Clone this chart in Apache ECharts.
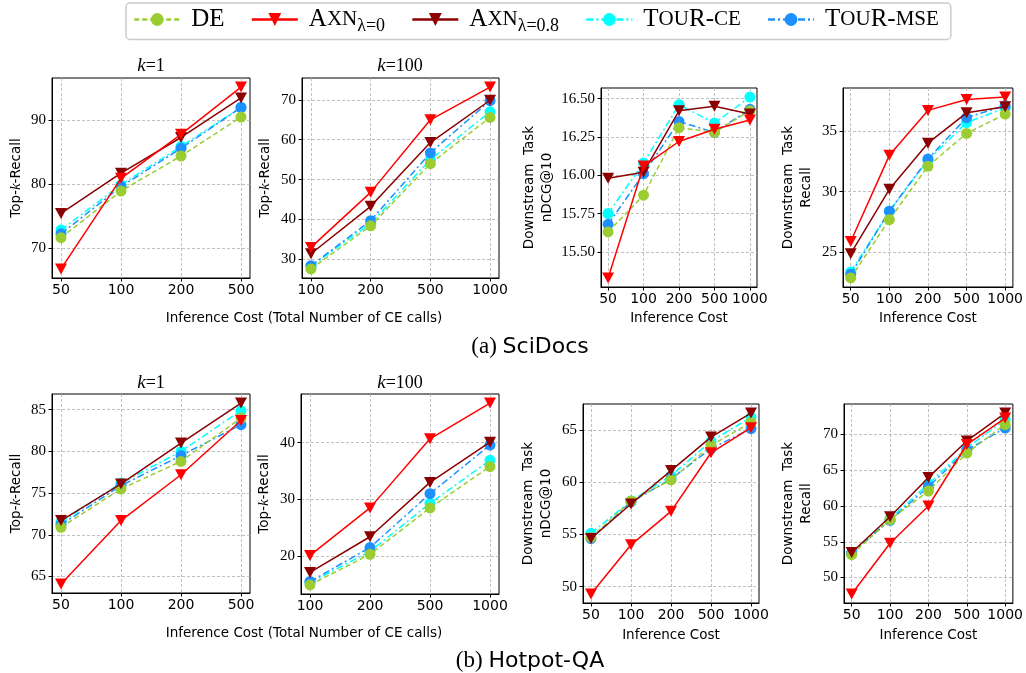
<!DOCTYPE html>
<html><head><meta charset="utf-8">
<script src="https://cdn.jsdelivr.net/npm/echarts@6/dist/echarts.min.js"></script>
<style>html,body{margin:0;padding:0;background:#fff}#c{width:1026px;height:673px}</style>
</head><body><div id="c"></div>
<script>
// ---------- categories (x tick labels) ----------
const costK1 = ['50', '100', '200', '500'];
const costK100 = ['100', '200', '500', '1000'];
const costDown = ['50', '100', '200', '500', '1000'];

// ---------- series names ----------
const seriesNames = ['DE', 'Axn0', 'Axn08', 'CE', 'MSE'];

// ---------- (a) SciDocs ----------
const sciK1_DE    = [71.6, 78.9, 84.4, 90.5];
const sciK1_Axn0  = [66.7, 80.9, 87.8, 95.2];
const sciK1_Axn08 = [75.4, 81.7, 87.3, 93.5];
const sciK1_CE    = [72.8, 79.9, 85.9, 92.0];
const sciK1_MSE   = [72.2, 79.6, 85.6, 92.0];
const sciK1_yTicks = [70, 80, 90];

const sciK100_DE    = [27.6, 38.4, 54.0, 65.6];
const sciK100_Axn0  = [33.0, 46.8, 65.0, 73.2];
const sciK100_Axn08 = [31.4, 43.3, 59.3, 69.9];
const sciK100_CE    = [28.2, 39.0, 55.0, 67.0];
const sciK100_MSE   = [28.4, 39.7, 56.7, 69.8];
const sciK100_yTicks = [30, 40, 50, 60, 70];

const sciNdcg_DE    = [15.63, 15.87, 16.31, 16.28, 16.42];
const sciNdcg_Axn0  = [15.33, 16.06, 16.22, 16.30, 16.36];
const sciNdcg_Axn08 = [15.98, 16.02, 16.42, 16.45, 16.40];
const sciNdcg_CE    = [15.75, 16.08, 16.46, 16.34, 16.51];
const sciNdcg_MSE   = [15.68, 16.01, 16.35, 16.28, 16.43];
const sciNdcg_yTicks = [15.5, 15.75, 16.0, 16.25, 16.5];

const sciRec_DE    = [22.9, 27.7, 32.1, 34.8, 36.4];
const sciRec_Axn0  = [25.9, 33.0, 36.7, 37.6, 37.8];
const sciRec_Axn08 = [24.9, 30.2, 34.0, 36.5, 37.0];
const sciRec_CE    = [23.4, 28.4, 32.6, 35.7, 36.9];
const sciRec_MSE   = [23.2, 28.4, 32.7, 36.1, 37.1];
const sciRec_yTicks = [25, 30, 35];

// ---------- (b) Hotpot-QA ----------
const hotK1_DE    = [70.9, 75.5, 78.8, 84.0];
const hotK1_Axn0  = [64.1, 71.7, 77.2, 83.7];
const hotK1_Axn08 = [71.7, 76.1, 81.0, 85.8];
const hotK1_CE    = [71.5, 76.2, 80.0, 84.9];
const hotK1_MSE   = [71.2, 75.9, 79.5, 83.2];
const hotK1_yTicks = [65, 70, 75, 80, 85];

const hotK100_DE    = [14.9, 20.3, 28.5, 35.8];
const hotK100_Axn0  = [20.1, 28.5, 40.7, 47.0];
const hotK100_Axn08 = [17.1, 23.4, 33.0, 40.1];
const hotK100_CE    = [15.3, 20.8, 29.3, 36.9];
const hotK100_MSE   = [15.5, 21.5, 31.0, 39.6];
const hotK100_yTicks = [20, 30, 40];

const hotNdcg_DE    = [54.7, 58.2, 60.2, 63.5, 65.7];
const hotNdcg_Axn0  = [49.3, 54.0, 57.2, 62.8, 65.2];
const hotNdcg_Axn08 = [54.6, 57.9, 61.1, 64.3, 66.6];
const hotNdcg_CE    = [55.1, 58.2, 60.6, 63.9, 66.2];
const hotNdcg_MSE   = [54.6, 58.1, 60.3, 63.2, 65.1];
const hotNdcg_yTicks = [50, 55, 60, 65];

const hotRec_DE    = [53.2, 58.1, 62.1, 67.4, 71.4];
const hotRec_Axn0  = [47.7, 54.8, 60.0, 68.6, 72.3];
const hotRec_Axn08 = [53.5, 58.5, 64.0, 69.1, 73.0];
const hotRec_CE    = [53.4, 58.2, 63.1, 68.1, 72.1];
const hotRec_MSE   = [53.4, 58.0, 62.7, 67.8, 70.9];
const hotRec_yTicks = [50, 55, 60, 65, 70];

// ---------- panel assembly ----------
const panels = [
  {cats: costK1,   vals: [sciK1_DE, sciK1_Axn0, sciK1_Axn08, sciK1_CE, sciK1_MSE], ticks: sciK1_yTicks, dec: 0},
  {cats: costK100, vals: [sciK100_DE, sciK100_Axn0, sciK100_Axn08, sciK100_CE, sciK100_MSE], ticks: sciK100_yTicks, dec: 0},
  {cats: costDown, vals: [sciNdcg_DE, sciNdcg_Axn0, sciNdcg_Axn08, sciNdcg_CE, sciNdcg_MSE], ticks: sciNdcg_yTicks, dec: 2},
  {cats: costDown, vals: [sciRec_DE, sciRec_Axn0, sciRec_Axn08, sciRec_CE, sciRec_MSE], ticks: sciRec_yTicks, dec: 0},
  {cats: costK1,   vals: [hotK1_DE, hotK1_Axn0, hotK1_Axn08, hotK1_CE, hotK1_MSE], ticks: hotK1_yTicks, dec: 0},
  {cats: costK100, vals: [hotK100_DE, hotK100_Axn0, hotK100_Axn08, hotK100_CE, hotK100_MSE], ticks: hotK100_yTicks, dec: 0},
  {cats: costDown, vals: [hotNdcg_DE, hotNdcg_Axn0, hotNdcg_Axn08, hotNdcg_CE, hotNdcg_MSE], ticks: hotNdcg_yTicks, dec: 0},
  {cats: costDown, vals: [hotRec_DE, hotRec_Axn0, hotRec_Axn08, hotRec_CE, hotRec_MSE], ticks: hotRec_yTicks, dec: 0}
];

// layout (positions / styles only)
const layout = [
  {left: 52,  top: 78,  width: 198, height: 200, yName: 'topk', yGap: 27, xName: ''},
  {left: 302, top: 78,  width: 197, height: 200, yName: 'topk', yGap: 28, xName: ''},
  {left: 601, top: 88,  width: 156, height: 199, yName: 'Downstream  Task\nnDCG@10', yGap: 45, xName: 'Inference Cost', xGap: 24},
  {left: 843, top: 88,  width: 176, height: 199, yName: 'Downstream  Task\nRecall', yGap: 28, xName: 'Inference Cost', xGap: 24},
  {left: 52,  top: 394, width: 198, height: 199, yName: 'topk', yGap: 27, xName: ''},
  {left: 301, top: 394, width: 198, height: 200, yName: 'topk', yGap: 28, xName: ''},
  {left: 583, top: 404, width: 176, height: 199, yName: 'Downstream  Task\nnDCG@10', yGap: 28, xName: 'Inference Cost', xGap: 25},
  {left: 844, top: 404, width: 175, height: 199, yName: 'Downstream  Task\nRecall', yGap: 29, xName: 'Inference Cost', xGap: 25}
];

const styles = {
  DE:    {color: '#9acd32', dash: [5, 3],        symbol: 'circle',   size: 11, rot: 0,   z: 4},
  Axn0:  {color: '#ff0000', dash: 'solid',       symbol: 'triangle', size: [12, 11], rot: 180, z: 6},
  Axn08: {color: '#8b0000', dash: 'solid',       symbol: 'triangle', size: [12, 11], rot: 180, z: 5},
  CE:    {color: '#00ffff', dash: [7, 3, 2, 3],  symbol: 'circle',   size: 11, rot: 0,   z: 2},
  MSE:   {color: '#1e90ff', dash: [7, 3, 2, 3],  symbol: 'circle',   size: 11, rot: 0,   z: 3}
};

const legendLabels = {
  DE:    '{g|}{n|DE}',
  Axn0:  '{g|}{n|A}{s|XN}{sub|λ=0}',
  Axn08: '{g|}{n|A}{s|XN}{sub|λ=0.8}',
  CE:    '{g|}{n|T}{s|OU}{n|R-}{s|CE}',
  MSE:   '{g|}{n|T}{s|OU}{n|R-}{s|MSE}'
};

const SANS = 'DejaVu Sans';
const SERIF = 'Liberation Serif';

const grids = [], xAxes = [], yAxes = [], series = [];
panels.forEach((p, i) => {
  const L = layout[i];
  grids.push({left: L.left, top: L.top, width: L.width, height: L.height, show: true,
    borderColor: '#000', borderWidth: 1, backgroundColor: 'transparent', containLabel: false});
  const n = p.cats.length;
  const idx = p.cats.map((c, j) => j);
  xAxes.push({
    type: 'value', gridIndex: i, min: -0.05 * (n - 1), max: (n - 1) * 1.05,
    axisLine: {show: true, onZero: false, lineStyle: {color: '#000', width: 1}},
    axisTick: {show: true, customValues: idx, length: 3.5, lineStyle: {color: '#000'}},
    axisLabel: {customValues: idx, formatter: v => p.cats[Math.round(v)], fontFamily: SANS, fontSize: 14, color: '#000', margin: 5},
    splitLine: {show: true, lineStyle: {color: '#b0b0b0', type: [3, 2], width: 0.8}},
    name: L.xName, nameLocation: 'middle', nameGap: L.xGap || 0,
    nameTextStyle: {fontFamily: SANS, fontSize: 13.5, color: '#000'}
  });
  let all = [];
  p.vals.forEach(a => { all = all.concat(a); });
  const lo = Math.min(...all), hi = Math.max(...all), span = hi - lo;
  const yName = L.yName === 'topk' ? '{a|Top-}{i|k}{a|-Recall}' : L.yName;
  yAxes.push({
    type: 'value', gridIndex: i, min: lo - 0.05 * span, max: hi + 0.05 * span,
    axisLine: {show: true, onZero: false, lineStyle: {color: '#000', width: 1}},
    axisTick: {show: true, customValues: p.ticks, length: 3.5, lineStyle: {color: '#000'}},
    axisLabel: {customValues: p.ticks, formatter: v => v.toFixed(p.dec), fontFamily: SERIF, fontSize: 15, color: '#000', margin: 6},
    splitLine: {show: true, lineStyle: {color: '#b0b0b0', type: [3, 2], width: 0.8}},
    name: yName, nameLocation: 'middle', nameGap: L.yGap, nameRotate: 90,
    nameTextStyle: {fontFamily: SANS, fontSize: 13.5, color: '#000', lineHeight: 18,
      rich: {a: {fontFamily: SANS, fontSize: 13.5, color: '#000'}, i: {fontFamily: SERIF, fontStyle: 'italic', fontSize: 15, color: '#000'}}}
  });
  seriesNames.forEach((s, k) => {
    const st = styles[s];
    series.push({
      type: 'line', name: s, xAxisIndex: i, yAxisIndex: i, z: st.z,
      data: p.vals[k].map((v, j) => [j, v]),
      symbol: st.symbol, symbolSize: st.size, symbolRotate: st.rot, showSymbol: true,
      lineStyle: {color: st.color, width: 1.5, type: st.dash},
      itemStyle: {color: st.color, borderWidth: 0},
      silent: true, animation: false, emphasis: {disabled: true}
    });
  });
});

const titleRich = {i: {fontFamily: SERIF, fontStyle: 'italic', fontSize: 19, color: '#000'}, n: {fontFamily: SERIF, fontSize: 18, color: '#000'}};
function txt(x, y, text, rich) {
  return {type: 'text', x: x, y: y, silent: true, style: {text: text, rich: rich, align: 'center', verticalAlign: 'middle', fill: '#000'}};
}
const nameRich = {a: {fontFamily: SANS, fontSize: 13.5, color: '#000'}};
const capRich = {s: {fontFamily: SERIF, fontSize: 23, color: '#000'}, t: {fontFamily: SANS, fontSize: 22, color: '#000'}};

const graphic = [
  txt(151, 66, '{i|k}{n|=1}', titleRich),
  txt(400, 66, '{i|k}{n|=100}', titleRich),
  txt(151, 383, '{i|k}{n|=1}', titleRich),
  txt(400, 383, '{i|k}{n|=100}', titleRich),
  txt(304, 318, '{a|Inference Cost (Total Number of CE calls)}', nameRich),
  txt(304, 633, '{a|Inference Cost (Total Number of CE calls)}', nameRich),
  txt(530, 347, '{s|(a) }{t|SciDocs}', capRich),
  txt(530, 661, '{s|(b) }{t|Hotpot-QA}', capRich)
];

const chart = echarts.init(document.getElementById('c'), null, {renderer: 'canvas'});
chart.setOption({
  animation: false,
  backgroundColor: '#fff',
  grid: grids, xAxis: xAxes, yAxis: yAxes, series: series,
  legend: {
    data: seriesNames, left: 126, top: 3, orient: 'horizontal',
    padding: [4, 12, 4, 7], itemGap: 26, itemWidth: 46, itemHeight: 16,
    borderColor: '#cccccc', borderWidth: 1.5, borderRadius: 4, backgroundColor: '#fff',
    selectedMode: false,
    lineStyle: {width: 2.5},
    formatter: name => legendLabels[name],
    textStyle: {color: '#000', fontFamily: SERIF, fontSize: 25,
      rich: {
        g: {width: 6},
        n: {fontFamily: SERIF, fontSize: 25, lineHeight: 32, color: '#000'},
        s: {fontFamily: SERIF, fontSize: 21, lineHeight: 32, color: '#000'},
        sub: {fontFamily: SERIF, fontSize: 18, lineHeight: 16, verticalAlign: 'bottom', color: '#000'}
      }}
  },
  graphic: graphic
});
</script></body></html>
